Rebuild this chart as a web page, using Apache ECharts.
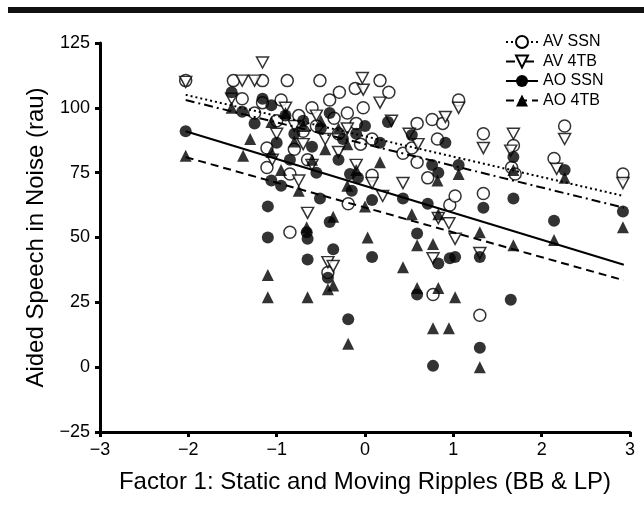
<!DOCTYPE html>
<html>
<head>
<meta charset="utf-8">
<script src="https://cdn.jsdelivr.net/npm/echarts@6/dist/echarts.min.js"></script>
<style>
  html, body { margin: 0; padding: 0; background: #fff; }
  #chart { width: 644px; height: 508px; }
</style>
</head>
<body>
<div id="chart"></div>
<script>
// series names
var names = ['AV SSN', 'AV 4TB', 'AO SSN', 'AO 4TB'];

// scatter points [factor score, speech score]
var avSsn = [
  [-2.03, 110.5], [-1.49, 110.5], [-1.39, 103.5], [-1.25, 98], [-1.16, 110.5], [-1.16, 102],
  [-1.11, 84.5], [-1.11, 77], [-0.88, 110.5], [-0.85, 74.5], [-0.85, 52], [-0.51, 110.5],
  [-0.42, 36.5], [-0.29, 106], [-0.19, 63], [-0.11, 107.5], [-0.02, 100], [0.08, 88],
  [0.08, 74], [0.17, 110.5], [0.27, 106], [0.43, 82.5], [0.53, 84.5], [0.59, 94], [0.59, 79],
  [0.71, 73], [0.76, 95.5], [0.77, 28], [0.82, 88], [0.88, 94], [0.96, 62.5], [1.02, 66],
  [1.06, 103], [1.30, 20], [1.34, 90], [1.34, 67], [1.68, 85.5], [1.66, 77], [1.70, 74.5],
  [2.14, 80.5], [2.26, 93], [2.92, 74.5],
  [-0.95, 103], [-1.0, 95], [-0.75, 97], [-0.7, 91], [-0.6, 100], [-0.55, 93], [-0.4, 103],
  [-0.35, 96], [-0.3, 90], [-0.2, 98], [-0.1, 94], [-0.05, 86], [-0.8, 84], [-0.65, 80]
];
var av4tb = [
  [-2.03, 110], [-1.39, 110.5], [-1.25, 110.5], [-1.16, 117.5], [-1.51, 103.5], [-1.0, 90],
  [-0.65, 59.5], [-0.42, 40.5], [-0.36, 39], [-0.03, 111.5], [-0.02, 107], [0.17, 102],
  [0.43, 71], [0.08, 71], [0.83, 57.5], [0.95, 55.5], [1.02, 49.5], [0.77, 42], [0.91, 96.5],
  [1.06, 100], [1.34, 84.5], [1.30, 44], [1.68, 90], [1.65, 83.5], [2.17, 76.5], [2.26, 88],
  [2.92, 71],
  [-0.9, 100], [-0.8, 93], [-0.7, 86], [-0.6, 78], [-0.55, 97], [-0.45, 88], [-0.3, 83],
  [-0.2, 92], [-0.1, 78], [0.3, 95], [0.5, 90], [0.6, 86], [-1.05, 80], [-0.75, 72], [0.2, 66]
];
var aoSsn = [
  [-2.03, 91], [-1.51, 106], [-1.39, 98.5], [-1.16, 103.5], [-1.06, 101], [-1.25, 94],
  [-1.0, 86.5], [-1.06, 72], [-1.10, 62], [-1.10, 50], [-0.95, 70], [-0.66, 52], [-0.65, 49.5],
  [-0.65, 41.5], [-0.51, 65], [-0.40, 56], [-0.36, 45.5], [-0.42, 34.5], [-0.19, 18.5],
  [0.08, 64.5], [0.08, 42.5], [0.43, 65], [0.59, 51.5], [0.59, 28], [0.71, 63], [0.83, 40],
  [0.96, 42], [1.02, 42.5], [0.77, 0.5], [1.30, 42.5], [1.30, 7.5], [1.34, 61.5], [0.26, 94.5],
  [0.53, 89.5], [0.91, 86.5], [0.76, 78], [0.83, 75], [1.06, 78], [0.17, 86.5], [-0.17, 74.5],
  [-0.08, 73], [1.68, 81], [1.68, 65], [2.26, 76], [2.14, 56.5], [2.92, 60], [1.65, 26],
  [-0.9, 97], [-0.8, 90], [-0.7, 95], [-0.6, 85], [-0.5, 92], [-0.4, 98], [-0.3, 80],
  [-0.25, 88], [-0.1, 90], [0.0, 93], [-0.55, 75], [-0.85, 80], [-0.15, 68]
];
var ao4tb = [
  [-2.03, 81.5], [-1.51, 100], [-1.38, 81.5], [-1.06, 94.5], [-1.06, 83], [-1.10, 35.5],
  [-1.10, 27], [-0.66, 54], [-0.65, 27], [-0.36, 58], [-0.36, 31.5], [-0.42, 30], [-0.19, 9],
  [0.0, 62], [0.03, 50], [0.53, 59], [0.59, 47], [0.43, 38.5], [0.59, 30.5], [0.83, 30.5],
  [1.02, 27], [0.77, 47.5], [0.83, 59], [0.77, 15], [0.95, 15], [1.30, 0], [1.30, 52],
  [0.17, 79], [-0.2, 70], [1.06, 74.5], [0.82, 72], [1.68, 76], [1.68, 47], [2.26, 73],
  [2.14, 49], [2.92, 54],
  [-0.9, 98], [-0.8, 87], [-0.7, 93], [-0.6, 80], [-0.5, 95], [-0.45, 84], [-0.3, 92],
  [-0.2, 86], [-0.1, 76], [-1.3, 88], [-0.95, 76], [-0.75, 68]
];

// fitted lines at both ends
var fitX = [-2.03, 2.93];
var fitAvSsn = [105, 66];
var fitAv4tb = [103, 61.5];
var fitAoSsn = [91, 39.5];
var fitAo4tb = [81, 33.5];

var xTicks = { min: -3, max: 3, step: 1 };
var yTicks = { min: -25, max: 125, step: 25 };

var FONT = 'Liberation Sans, Arial, Helvetica, sans-serif';
var downTri = 'path://M0,0 L20,0 L10,18 Z';

function pairs(ys) {
  return fitX.map(function (x, i) { return [x, ys[i]]; });
}
function minus(v) { return String(v).replace('-', '\u2212'); }

var openStyle = { color: '#fff', borderColor: '#000', borderWidth: 1.5 };
var fillStyle = { color: '#000', borderColor: '#000', borderWidth: 0 };

var marks = [
  { name: names[0], data: avSsn, fit: fitAvSsn, symbol: 'circle', item: openStyle, line: [2, 3] },
  { name: names[1], data: av4tb, fit: fitAv4tb, symbol: downTri, item: openStyle, line: [9, 4, 2, 4] },
  { name: names[2], data: aoSsn, fit: fitAoSsn, symbol: 'circle', item: fillStyle, line: 'solid' },
  { name: names[3], data: ao4tb, fit: fitAo4tb, symbol: 'triangle', item: fillStyle, line: [8, 5] }
];

var series = [];
// regression lines first so the legend picks them (line + symbol icon)
marks.forEach(function (m) {
  series.push({
    name: m.name,
    type: 'line',
    data: pairs(m.fit),
    showSymbol: false,
    symbol: m.symbol,
    itemStyle: m.item,
    lineStyle: { color: '#000', width: 2, type: m.line },
    z: 4,
    silent: true
  });
});
marks.forEach(function (m) {
  series.push({
    name: m.name,
    type: 'scatter',
    data: m.data,
    symbol: m.symbol,
    symbolSize: m.symbol === downTri ? [12, 11] : 12,
    itemStyle: m.item,
    z: 2
  });
});

var myChart = echarts.init(document.getElementById('chart'));
var option = {
  animation: false,
  backgroundColor: '#fff',
  textStyle: { fontFamily: FONT, color: '#000' },
  graphic: [
    { type: 'rect', left: 8, top: 7, shape: { width: 636, height: 6 }, style: { fill: '#111' } }
  ],
  legend: {
    data: names,
    orient: 'vertical',
    left: 500,
    top: 29,
    itemWidth: 32,
    itemHeight: 15,
    itemGap: 3.5,
    textStyle: { fontSize: 16, color: '#000', fontFamily: FONT }
  },
  grid: { left: 100, right: 14, top: 43, bottom: 76 },
  xAxis: {
    type: 'value',
    min: xTicks.min, max: xTicks.max, interval: xTicks.step,
    name: 'Factor 1: Static and Moving Ripples (BB & LP)',
    nameLocation: 'middle',
    nameGap: 38,
    nameTextStyle: { fontSize: 24, color: '#000', fontFamily: FONT },
    axisLine: { onZero: false, lineStyle: { color: '#000', width: 3 } },
    axisTick: { length: 5, lineStyle: { color: '#000', width: 3 } },
    axisLabel: { fontSize: 18, color: '#000', margin: 9, formatter: minus },
    splitLine: { show: false }
  },
  yAxis: {
    type: 'value',
    min: yTicks.min, max: yTicks.max, interval: yTicks.step,
    name: 'Aided Speech in Noise (rau)',
    nameLocation: 'middle',
    nameGap: 52,
    nameTextStyle: { fontSize: 24, color: '#000', fontFamily: FONT },
    axisLine: { onZero: false, lineStyle: { color: '#000', width: 3 } },
    axisTick: { length: 5, lineStyle: { color: '#000', width: 3 } },
    axisLabel: { fontSize: 18, color: '#000', margin: 10, formatter: minus },
    splitLine: { show: false }
  },
  series: series
};
myChart.setOption(option);
</script>
</body>
</html>
